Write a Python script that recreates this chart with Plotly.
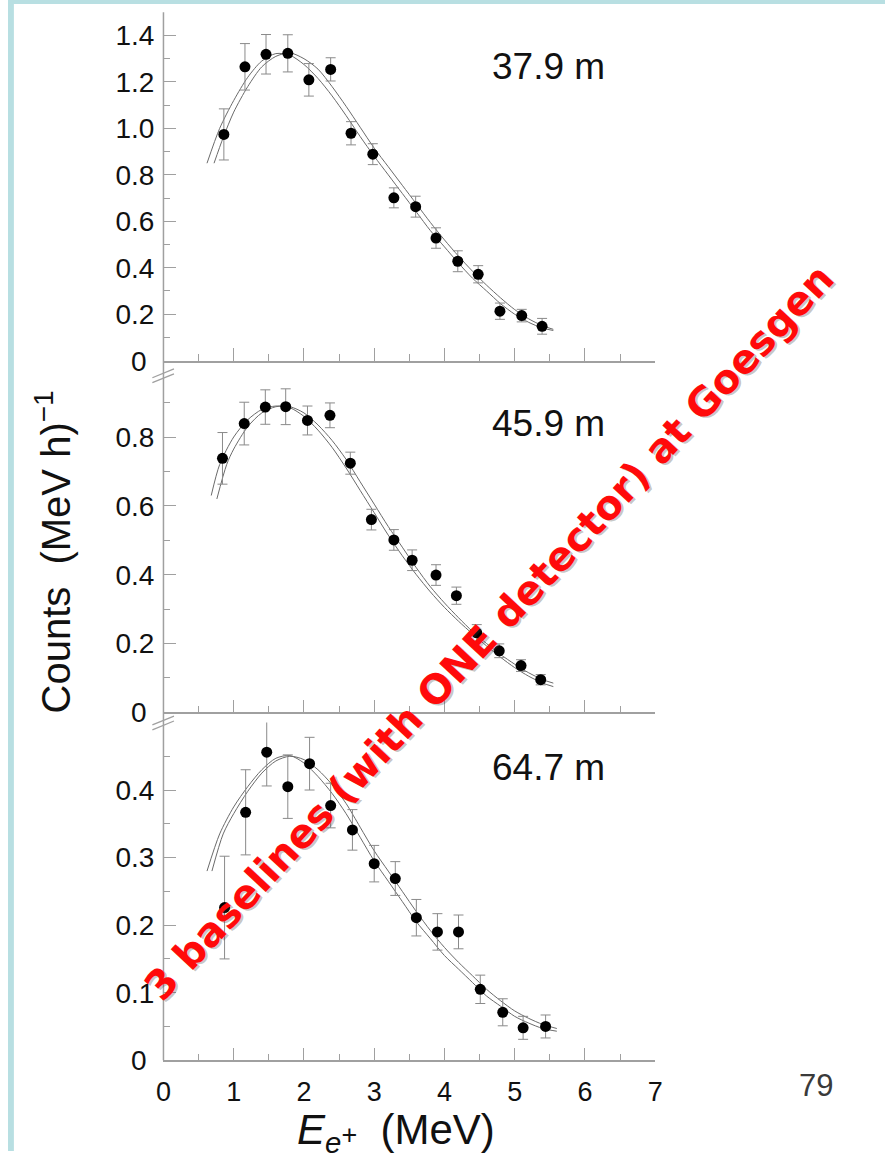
import plotly.graph_objects as go

W, H = 893, 1167

# ---- measured positron spectra at three baselines ----
# positron energy (MeV), count rate (counts per MeV per hour), error
e_379 = [0.86, 1.16, 1.46, 1.77, 2.07, 2.38, 2.67, 2.98, 3.28, 3.59, 3.88, 4.19, 4.48, 4.79, 5.10, 5.39]
r_379 = [0.974, 1.265, 1.319, 1.323, 1.209, 1.254, 0.979, 0.889, 0.701, 0.663, 0.528, 0.428, 0.372, 0.213, 0.194, 0.148]
err_379 = [0.11, 0.10, 0.085, 0.08, 0.07, 0.05, 0.05, 0.045, 0.043, 0.045, 0.044, 0.045, 0.037, 0.035, 0.027, 0.034]

e_459 = [0.84, 1.15, 1.45, 1.74, 2.05, 2.37, 2.66, 2.96, 3.28, 3.54, 3.88, 4.17, 4.46, 4.78, 5.09, 5.37]
r_459 = [0.738, 0.839, 0.887, 0.888, 0.848, 0.863, 0.724, 0.56, 0.501, 0.442, 0.399, 0.339, 0.231, 0.179, 0.136, 0.095]
err_459 = [0.075, 0.062, 0.05, 0.052, 0.042, 0.036, 0.032, 0.03, 0.03, 0.03, 0.03, 0.025, 0.024, 0.02, 0.017, 0.015]

e_647 = [0.87, 1.17, 1.47, 1.77, 2.08, 2.38, 2.69, 3.00, 3.30, 3.60, 3.90, 4.20, 4.51, 4.83, 5.12, 5.44]
r_647 = [0.226, 0.367, 0.456, 0.405, 0.439, 0.377, 0.341, 0.291, 0.269, 0.211, 0.19, 0.19, 0.105, 0.071, 0.048, 0.05]
err_647 = [0.076, 0.063, 0.05, 0.047, 0.039, 0.033, 0.03, 0.027, 0.025, 0.027, 0.027, 0.025, 0.021, 0.02, 0.017, 0.017]

# ---- fitted spectra (two hypotheses per baseline) ----
fa_e_379 = [0.62, 0.8, 1.0, 1.2, 1.4, 1.6, 1.8, 2.0, 2.2, 2.4, 2.6, 2.8, 3.0, 3.2, 3.4, 3.6, 3.8, 4.0, 4.2, 4.4, 4.6, 4.8, 5.0, 5.2, 5.4, 5.55]
fa_379 = [0.85, 1.0, 1.12, 1.22, 1.29, 1.322, 1.315, 1.275, 1.215, 1.14, 1.055, 0.965, 0.88, 0.80, 0.72, 0.64, 0.56, 0.49, 0.42, 0.355, 0.30, 0.245, 0.20, 0.165, 0.14, 0.13]
fb_e_379 = [0.72, 0.85, 1.0, 1.2, 1.4, 1.6, 1.8, 2.0, 2.2, 2.4, 2.6, 2.8, 3.0, 3.2, 3.4, 3.6, 3.8, 4.0, 4.2, 4.4, 4.6, 4.8, 5.0, 5.2, 5.4, 5.55]
fb_379 = [0.85, 0.96, 1.07, 1.18, 1.265, 1.31, 1.325, 1.30, 1.255, 1.18, 1.095, 1.005, 0.915, 0.835, 0.755, 0.675, 0.595, 0.52, 0.45, 0.385, 0.325, 0.27, 0.22, 0.18, 0.15, 0.135]

fa_e_459 = [0.68, 0.8, 1.0, 1.2, 1.4, 1.6, 1.8, 2.0, 2.2, 2.4, 2.6, 2.8, 3.0, 3.2, 3.4, 3.6, 3.8, 4.0, 4.2, 4.4, 4.6, 4.8, 5.0, 5.2, 5.4, 5.55]
fa_459 = [0.63, 0.72, 0.80, 0.85, 0.88, 0.89, 0.885, 0.86, 0.82, 0.77, 0.71, 0.645, 0.58, 0.515, 0.455, 0.40, 0.35, 0.305, 0.265, 0.228, 0.193, 0.16, 0.13, 0.105, 0.085, 0.075]
fb_e_459 = [0.76, 0.9, 1.0, 1.2, 1.4, 1.6, 1.8, 2.0, 2.2, 2.4, 2.6, 2.8, 3.0, 3.2, 3.4, 3.6, 3.8, 4.0, 4.2, 4.4, 4.6, 4.8, 5.0, 5.2, 5.4, 5.55]
fb_459 = [0.62, 0.72, 0.765, 0.83, 0.87, 0.888, 0.888, 0.87, 0.835, 0.79, 0.735, 0.67, 0.605, 0.54, 0.48, 0.42, 0.365, 0.318, 0.275, 0.235, 0.20, 0.168, 0.14, 0.115, 0.095, 0.085]

fa_e_647 = [0.62, 0.8, 1.0, 1.2, 1.4, 1.6, 1.8, 2.0, 2.2, 2.4, 2.6, 2.8, 3.0, 3.2, 3.4, 3.6, 3.8, 4.0, 4.2, 4.4, 4.6, 4.8, 5.0, 5.2, 5.4, 5.6]
fa_647 = [0.28, 0.335, 0.375, 0.405, 0.43, 0.447, 0.451, 0.44, 0.42, 0.395, 0.365, 0.33, 0.295, 0.265, 0.235, 0.205, 0.18, 0.155, 0.135, 0.115, 0.095, 0.08, 0.065, 0.055, 0.047, 0.043]
fb_e_647 = [0.69, 0.85, 1.0, 1.2, 1.4, 1.6, 1.8, 2.0, 2.2, 2.4, 2.6, 2.8, 3.0, 3.2, 3.4, 3.6, 3.8, 4.0, 4.2, 4.4, 4.6, 4.8, 5.0, 5.2, 5.4, 5.6]
fb_647 = [0.28, 0.335, 0.365, 0.398, 0.425, 0.443, 0.45, 0.445, 0.43, 0.408, 0.38, 0.345, 0.31, 0.28, 0.25, 0.22, 0.192, 0.167, 0.145, 0.125, 0.105, 0.088, 0.073, 0.062, 0.053, 0.047]

baselines = ["37.9 m", "45.9 m", "64.7 m"]
x_ticks = [0, 1, 2, 3, 4, 5, 6, 7]
y_ticks_379 = [0, 0.2, 0.4, 0.6, 0.8, 1.0, 1.2, 1.4]
y_text_379 = ["0\u00a0", "0.2", "0.4", "0.6", "0.8", "1.0", "1.2", "1.4"]
y_ticks_459 = [0, 0.2, 0.4, 0.6, 0.8]
y_text_459 = ["0\u00a0", "0.2", "0.4", "0.6", "0.8"]
y_ticks_647 = [0, 0.1, 0.2, 0.3, 0.4]
y_text_647 = ["0\u00a0", "0.1", "0.2", "0.3", "0.4"]


def fx(p):
    return p / W


def fy(p):
    return 1 - p / H


AX = "#a0a0a0"
FIT = "#6a6a6a"
FONT = "Liberation Sans, Arial, sans-serif"

# pixel layout of the plotting frames
X0, X1 = 158.3, 659.0
frames = {
    "y": (365.7, 12.4, 1.5),     # top panel: bottom px, top px, y max
    "y2": (722.3, 382.0, 0.975),
    "y3": (1075.0, 732.5, 0.5),
}

fig = go.Figure()

sets = [
    ("x", "y", e_379, r_379, err_379, fa_e_379, fa_379, fb_e_379, fb_379),
    ("x2", "y2", e_459, r_459, err_459, fa_e_459, fa_459, fb_e_459, fb_459),
    ("x3", "y3", e_647, r_647, err_647, fa_e_647, fa_647, fb_e_647, fb_647),
]
for xa, ya, e, r, er, fae, fav, fbe, fbv in sets:
    for ce, cv in ((fae, fav), (fbe, fbv)):
        fig.add_trace(go.Scatter(
            x=ce, y=cv, mode="lines", xaxis=xa, yaxis=ya,
            line=dict(color=FIT, width=1, shape="spline", smoothing=0.8),
            hoverinfo="skip", showlegend=False))
    fig.add_trace(go.Scatter(
        x=e, y=r, mode="markers", xaxis=xa, yaxis=ya,
        marker=dict(color="black", size=11),
        error_y=dict(type="data", array=er, color="#8a8a8a", thickness=1, width=5),
        showlegend=False))

xdom = [fx(X0), fx(X1)]


def xaxis_cfg(anchor, labels):
    return dict(
        domain=xdom, range=[0, 7], anchor=anchor,
        showline=True, linecolor=AX, linewidth=1.5,
        ticks="inside", ticklen=13, tickwidth=1.2, tickcolor=AX,
        tickvals=x_ticks, showticklabels=labels,
        tickfont=dict(family=FONT, size=27, color="#111"),
        ticklabelstandoff=7,
        minor=dict(dtick=0.5, tick0=0, ticks="inside", ticklen=7, tickwidth=1.2, tickcolor=AX),
        showgrid=False, zeroline=False, fixedrange=True)


def yaxis_cfg(key, tv, tt, minor_step):
    b, t, ymax = frames[key]
    return dict(
        domain=[fy(b), fy(t)], range=[0, ymax],
        showline=False, ticks="inside", ticklen=13, tickwidth=1.2, tickcolor=AX,
        tickvals=tv, ticktext=tt,
        tickfont=dict(family=FONT, size=28, color="#111"),
        ticklabelstandoff=8,
        minor=dict(dtick=minor_step, tick0=0, ticks="inside", ticklen=7, tickwidth=1.2, tickcolor=AX),
        showgrid=False, zeroline=False, fixedrange=True)


fig.update_layout(
    width=W, height=H,
    margin=dict(l=0, r=0, t=0, b=0),
    paper_bgcolor="white", plot_bgcolor="rgba(0,0,0,0)",
    xaxis=xaxis_cfg("y", False),
    xaxis2=xaxis_cfg("y2", False),
    xaxis3=xaxis_cfg("y3", True),
    yaxis=dict(yaxis_cfg("y", y_ticks_379, y_text_379, 0.1), anchor="x"),
    yaxis2=dict(yaxis_cfg("y2", y_ticks_459, y_text_459, 0.1), anchor="x2"),
    yaxis3=dict(yaxis_cfg("y3", y_ticks_647, y_text_647, 0.05), anchor="x3"),
)

shapes = []
# page border strips
BORDER = "#b8dfe2"
shapes.append(dict(type="rect", xref="paper", yref="paper", x0=0, x1=fx(6), y0=0, y1=1,
                   fillcolor=BORDER, line=dict(width=0), layer="below"))
shapes.append(dict(type="rect", xref="paper", yref="paper", x0=0, x1=1, y0=fy(4), y1=1,
                   fillcolor=BORDER, line=dict(width=0), layer="below"))
# continuous vertical axis through all three panels
shapes.append(dict(type="line", xref="paper", yref="paper", x0=fx(X0), x1=fx(X0),
                   y0=fy(1075.0), y1=fy(12.4), line=dict(color=AX, width=1.5)))
# axis break marks
for yb in (381.0, 733.0):
    for dy in (-2.5, 2.5):
        shapes.append(dict(type="line", xref="paper", yref="paper",
                           x0=fx(147), y0=fy(yb + 4.5 + dy), x1=fx(169), y1=fy(yb - 4.5 + dy),
                           line=dict(color=AX, width=1.3)))
fig.update_layout(shapes=shapes)

ann = []
label_y = [67, 429, 778]
for name, py in zip(baselines, label_y):
    ann.append(dict(text=name, xref="paper", yref="paper", x=fx(491), y=fy(py),
                    xanchor="left", yanchor="middle", showarrow=False,
                    font=dict(family=FONT, size=37, color="#111")))
ann.append(dict(text="Counts  (MeV h)<sup>\u22121</sup>", xref="paper", yref="paper",
                x=fx(46), y=fy(560), textangle=-90, showarrow=False,
                xanchor="center", yanchor="middle",
                font=dict(family=FONT, size=40, color="#111")))
ann.append(dict(text="<i>E</i><sub><i>e</i></sub><span style='font-size:27px'>+</span>  (MeV)",
                xref="paper", yref="paper", x=fx(395), y=fy(1119), showarrow=False,
                xanchor="center", yanchor="top",
                font=dict(family=FONT, size=42, color="#111")))
ann.append(dict(text="79", xref="paper", yref="paper", x=fx(823), y=fy(1101), showarrow=False,
                xanchor="center", yanchor="middle",
                font=dict(family=FONT, size=31, color="#3a3a3a")))
# diagonal red note with a faint drop shadow
note = "3 baselines (with ONE detector) at Goesgen"
for dx, dy, col in ((1.5, 1.5, "rgba(60,60,60,0.3)"), (0, 0, "#ff0a0a")):
    ann.append(dict(text="<b>" + note + "</b>", xref="paper", yref="paper",
                    x=fx(490 + dx), y=fy(641 + dy), textangle=-47, showarrow=False,
                    xanchor="center", yanchor="middle",
                    font=dict(family="DejaVu Sans, sans-serif", size=40, color=col)))
fig.update_layout(annotations=ann)

fig.write_html("out.html")
